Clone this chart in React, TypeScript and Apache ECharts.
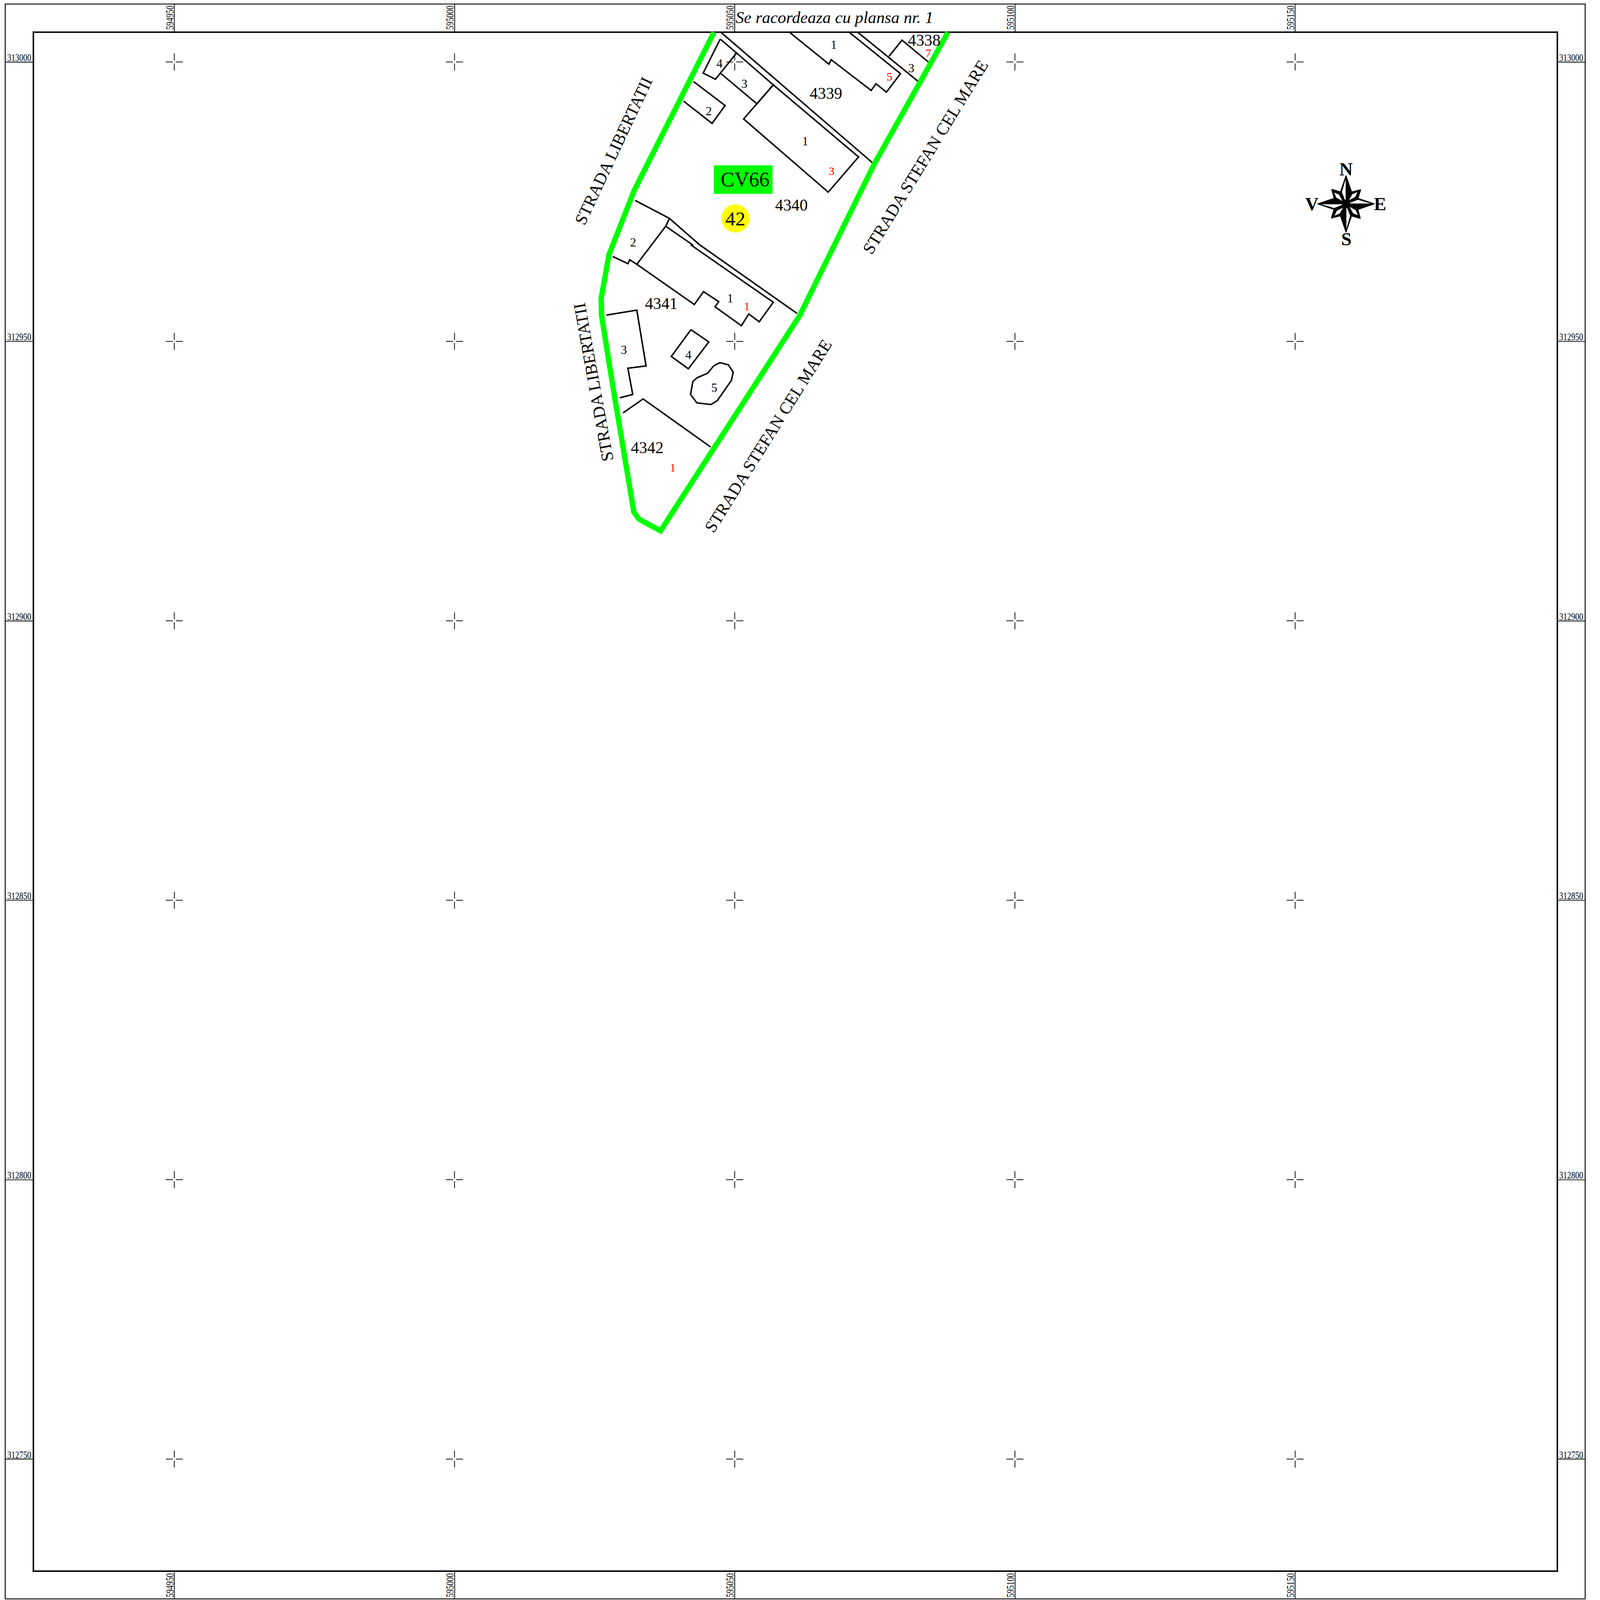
import React, { useEffect, useRef } from "react";
import * as echarts from "echarts";

const SERIF = "Liberation Serif";
const PAGE_W = 4314;
const PAGE_H = 4326;

const eastTicks = [594950, 595000, 595050, 595100, 595150];
const northTicks = [313000, 312950, 312900, 312850, 312800, 312750];

const boundary = [
  [595046.3, 313005.3], [595032.06, 312977.0], [595027.56, 312965.5], [595026.17, 312957.7],
  [595026.24, 312954.6], [595028.62, 312939.7], [595028.95, 312937.8], [595032.0, 312919.5],
  [595032.92, 312918.2], [595036.76, 312916.1], [595061.58, 312954.6], [595074.88, 312981.7],
  [595088.05, 313005.3],
];

const parcelLines = [
  [[595047.55, 313005.3], [595074.88, 312981.7]],
  [[595032.26, 312975.21], [595038.35, 312972.0], [595043.71, 312967.3], [595061.12, 312955.0]],
  [[595071.97, 313005.3], [595082.76, 312996.5]],
  [[595030.08, 312937.2], [595033.65, 312939.7], [595045.7, 312931.1]],
];

const buildings = [
  [[595047.42, 313004.1], [595050.33, 313001.6], [595046.56, 312996.9], [595044.37, 312998.0], [595047.42, 313004.1]],
  [[595050.33, 313001.6], [595056.88, 312995.9], [595053.97, 312992.5], [595047.55, 312997.9]],
  [[595056.88, 312995.9], [595072.1, 312983.0], [595066.68, 312976.7], [595051.59, 312989.8], [595056.88, 312995.9]],
  [[595042.65, 312996.5], [595048.28, 312992.2], [595045.96, 312989.0], [595040.87, 312993.0]],
  [[595059.79, 313005.3], [595066.81, 312999.6], [595067.21, 313000.4], [595074.35, 312994.9], [595075.21, 312996.1],
   [595077.07, 312994.6], [595079.58, 312997.9], [595070.45, 313005.3]],
  [[595077.53, 313001.0], [595079.85, 313003.9], [595084.54, 313000.0]],
  [[595038.35, 312972.0], [595037.69, 312970.6], [595042.45, 312967.3], [595042.26, 312967.2], [595056.88, 312957.0],
   [595054.37, 312953.5], [595052.51, 312954.9], [595051.19, 312952.8], [595046.49, 312956.2], [595047.15, 312957.1],
   [595044.44, 312958.9], [595042.79, 312956.6], [595032.53, 312963.8], [595037.69, 312970.6]],
  [[595028.23, 312965.2], [595030.94, 312963.9], [595031.27, 312964.6], [595032.53, 312963.8]],
  [[595027.1, 312954.7], [595032.53, 312955.6], [595034.18, 312945.6], [595030.94, 312945.2], [595031.8, 312940.5], [595029.48, 312939.9]],
  [[595042.19, 312952.1], [595045.37, 312949.9], [595041.73, 312945.1], [595038.68, 312947.3], [595042.19, 312952.1]],
  [[595047.35, 312946.2], [595048.87, 312945.8], [595049.73, 312944.5], [595049.4, 312943.0], [595046.89, 312939.4],
   [595045.76, 312938.7], [595043.25, 312939.0], [595042.12, 312940.5], [595042.52, 312942.8], [595043.31, 312943.5],
   [595045.17, 312944.3], [595046.23, 312945.6], [595047.35, 312946.2]],
];

const parcelLabels: [number, number, string][] = [
  [595066.28, 312994.4, "4339"], [595083.82, 313003.9, "4338"], [595060.12, 312974.4, "4340"],
  [595036.9, 312956.8, "4341"], [595034.38, 312931.0, "4342"],
];
const buildingLabels: [number, number, string][] = [
  [595067.67, 313003.1, "1"], [595047.29, 312999.7, "4"], [595051.72, 312996.1, "3"], [595045.37, 312991.2, "2"],
  [595081.5, 312998.9, "3"], [595062.57, 312985.8, "1"], [595031.87, 312967.7, "2"], [595049.2, 312957.7, "1"],
  [595030.21, 312948.5, "3"], [595041.73, 312947.6, "4"], [595046.36, 312941.7, "5"],
];
const redLabels: [number, number, string][] = [
  [595084.54, 313001.6, "7"], [595077.6, 312997.4, "5"], [595067.27, 312980.5, "3"],
  [595052.18, 312956.3, "1"], [595038.95, 312927.4, "1"],
];
const streetLabels: [number, number, string, number][] = [
  [595028.36, 312984.1, "STRADA LIBERTATII", 65],
  [595024.78, 312942.7, "STRADA LIBERTATII", 100.3],
  [595084.01, 312983.0, "STRADA STEFAN CEL MARE", 58.5],
  [595055.96, 312933.1, "STRADA STEFAN CEL MARE", 58],
];
const titleNote: [number, number, string] = [595067.8, 313008.0, "Se racordeaza cu plansa nr. 1"];
const blockBadge: [number, number, string] = [595051.52, 312978.95, "CV66"];
const numberBadge: [number, number, string] = [595050.13, 312972.0, "42"];
const compassCentre: [number, number] = [595159.08, 312974.6];
const compassLetters: [string, number, number][] = [["N", 0, -94], ["S", 1, 95], ["V", -92, 0], ["E", 92, 0]];

const pairs = (xs: number[], ys: number[]) => xs.flatMap((x) => ys.map((y) => [x, y]));
const rotate = (p: number[], turns: number) => {
  let [x, y] = p;
  for (let i = 0; i < turns; i++) [x, y] = [-y, x];
  return [x, y];
};

const xRange = { min: 594924.82, max: 595196.79 };
const yRange = { min: 312729.95, max: 313005.36 };

const lineSeries = (data: number[][], color: string, width: number) => ({
  type: "line",
  data,
  showSymbol: false,
  symbol: "none",
  silent: true,
  z: 3,
  lineStyle: { color, width, join: "miter", cap: "butt" },
  emphasis: { disabled: true },
});

const textSeries = (rows: any[], size: number, color: string) => ({
  type: "custom",
  coordinateSystem: "cartesian2d",
  silent: true,
  z: 6,
  data: rows.map((r) => [r[0], r[1]]),
  renderItem: (params: any, api: any) => {
    const c = api.coord([api.value(0), api.value(1)]);
    const r = rows[params.dataIndex];
    return {
      type: "text",
      x: c[0],
      y: c[1],
      rotation: ((r[3] || 0) * Math.PI) / 180,
      style: { text: r[2], fontFamily: SERIF, fontSize: size, fill: color, align: "center", verticalAlign: "middle" },
    };
  },
});

// Frame labels: condensed text beside each tick, placed through the axis scales.
const tickLabelSeries = (
  rows: number[][],
  place: { dx: number; dy: number; rot: number; align: string; size: number; squeeze: number }
) => ({
  type: "custom",
  coordinateSystem: "cartesian2d",
  silent: true,
  z: 6,
  data: rows,
  renderItem: (params: any, api: any) => {
    const c = api.coord([api.value(0), api.value(1)]);
    const value = place.rot ? rows[params.dataIndex][0] : rows[params.dataIndex][1];
    return {
      type: "text",
      x: c[0] + place.dx,
      y: c[1] + place.dy,
      rotation: place.rot,
      scaleX: place.squeeze,
      style: {
        text: String(value),
        fontFamily: SERIF,
        fontSize: place.size,
        fill: "#000",
        align: place.align,
        verticalAlign: "middle",
      },
    };
  },
});

const axisCommon = (values: number[]) => ({
  type: "value",
  splitLine: { show: false },
  axisLine: { show: true, onZero: false, lineStyle: { color: "#000", width: 4 } },
  axisTick: { show: true, length: 75, customValues: values, lineStyle: { color: "#000", width: 2 } },
  axisLabel: { show: false },
});

export default function App() {
  const ref = useRef<HTMLDivElement>(null);
  const sx = Math.min(1, window.innerWidth / PAGE_W);
  const sy = Math.min(1, window.innerHeight / PAGE_H);
  useEffect(() => {
    document.body.style.margin = "0";
    const chart = echarts.init(ref.current!, null, { renderer: "svg" });
    chart.setOption({
      animation: false,
      backgroundColor: "#fff",
      grid: { left: 89.5, top: 86.5, width: 4109.5, height: 4161.5, show: false },
      xAxis: [
        { ...axisCommon(eastTicks), ...xRange, position: "bottom" },
        { ...axisCommon(eastTicks), ...xRange, position: "top" },
      ],
      yAxis: [
        { ...axisCommon(northTicks), ...yRange, position: "left" },
        { ...axisCommon(northTicks), ...yRange, position: "right" },
      ],
      graphic: [
        { type: "rect", shape: { x: 14, y: 11, width: 4260, height: 4312 }, style: { fill: "none", stroke: "#000", lineWidth: 2.5 }, silent: true },
      ],
      series: [
        {
          type: "custom",
          silent: true,
          z: 2,
          data: pairs(eastTicks, northTicks),
          renderItem: (_: any, api: any) => {
            const [x, y] = api.coord([api.value(0), api.value(1)]);
            const arm = 23;
            const gap = 4;
            const seg = (a: number, b: number, c: number, d: number) => ({
              type: "line",
              shape: { x1: x + a, y1: y + b, x2: x + c, y2: y + d },
              style: { stroke: "#000", lineWidth: 2, fill: "none" },
            });
            return {
              type: "group",
              children: [seg(-arm, 0, -gap, 0), seg(gap, 0, arm, 0), seg(0, -arm, 0, -gap), seg(0, gap, 0, arm)],
            };
          },
        },
        ...parcelLines.map((d) => lineSeries(d, "#000", 4)),
        ...buildings.map((d) => lineSeries(d, "#000", 4)),
        lineSeries(boundary, "#00ff00", 14.5),
        {
          type: "custom",
          silent: true,
          z: 4,
          data: [[compassCentre[0], compassCentre[1]]],
          renderItem: (_: any, api: any) => {
            const [cx, cy] = api.coord([api.value(0), api.value(1)]);
            const poly = (pts: number[][], fill: string, lw = 0) => ({
              type: "polygon",
              x: cx,
              y: cy,
              shape: { points: pts },
              style: { fill, stroke: lw ? "#000" : "none", lineWidth: lw, lineJoin: "round" },
            });
            const children: any[] = [];
            for (let t = 0; t < 4; t++) {
              const diag = [[0, 0], [16, -32], [39, -38], [32, -15]].map((p) => rotate(p, t));
              const sliver = [[8, -10], [17, -26], [31, -32], [25, -19]].map((p) => rotate(p, t));
              children.push(poly(diag, "#000", 3), poly(sliver, "#fff"));
            }
            for (let t = 0; t < 4; t++) {
              const half = [[0, -76], [-15, -32], [0, 0], [15, -32]].map((p) => rotate(p, t));
              const light = [[-1, -67], [-11, -32], [-3, -11], [-1, -11]].map((p) => rotate(p, t));
              children.push(poly(half, "#000", 2.5), poly(light, "#fff"));
            }
            compassLetters.forEach(([text, dx, dy]) =>
              children.push({
                type: "text",
                x: cx + dx,
                y: cy + dy,
                style: { text, fontFamily: SERIF, fontWeight: "bold", fontSize: 50, fill: "#000", align: "center", verticalAlign: "middle" },
              })
            );
            return { type: "group", children };
          },
        },
        {
          type: "custom",
          silent: true,
          z: 5,
          data: [blockBadge.slice(0, 2)],
          renderItem: (_: any, api: any) => {
            const [x, y] = api.coord([api.value(0), api.value(1)]);
            return {
              type: "group",
              children: [
                { type: "rect", shape: { x: x - 79, y: y - 38.5, width: 158, height: 77 }, style: { fill: "#00ff00" } },
                { type: "text", x: x + 5, y, style: { text: blockBadge[2], fontFamily: SERIF, fontSize: 55, fill: "#000", align: "center", verticalAlign: "middle" } },
              ],
            };
          },
        },
        {
          type: "custom",
          silent: true,
          z: 5,
          data: [numberBadge.slice(0, 2)],
          renderItem: (_: any, api: any) => {
            const [x, y] = api.coord([api.value(0), api.value(1)]);
            return {
              type: "group",
              children: [
                { type: "circle", shape: { cx: x, cy: y, r: 38 }, style: { fill: "#ffff00" } },
                { type: "text", x, y, style: { text: numberBadge[2], fontFamily: SERIF, fontSize: 54, fill: "#000", align: "center", verticalAlign: "middle" } },
              ],
            };
          },
        },
        textSeries(parcelLabels, 44, "#000"),
        textSeries(buildingLabels, 33, "#000"),
        textSeries(redLabels, 32, "#ff0000"),
        textSeries(streetLabels, 46, "#000"),
        tickLabelSeries(eastTicks.map((x) => [x, yRange.max]), { dx: -12, dy: -6, rot: Math.PI / 2, align: "left", size: 28, squeeze: 0.78 }),
        tickLabelSeries(eastTicks.map((x) => [x, yRange.min]), { dx: -12, dy: 71, rot: Math.PI / 2, align: "left", size: 28, squeeze: 0.78 }),
        tickLabelSeries(northTicks.map((y) => [xRange.min, y]), { dx: -70, dy: -12, rot: 0, align: "left", size: 27, squeeze: 0.8 }),
        tickLabelSeries(northTicks.map((y) => [xRange.max, y]), { dx: 5, dy: -12, rot: 0, align: "left", size: 27, squeeze: 0.8 }),
        {
          type: "custom",
          silent: true,
          z: 6,
          data: [titleNote.slice(0, 2)],
          renderItem: (_: any, api: any) => {
            const [x, y] = api.coord([api.value(0), api.value(1)]);
            return {
              type: "text",
              x,
              y,
              style: { text: titleNote[2], fontFamily: SERIF, fontStyle: "italic", fontSize: 45, fill: "#000", align: "center", verticalAlign: "middle" },
            };
          },
        },
      ],
    });
    return () => chart.dispose();
  }, []);
  return (
    <div
      ref={ref}
      style={{
        position: "absolute",
        left: 0,
        top: 0,
        width: PAGE_W,
        height: PAGE_H,
        transformOrigin: "0 0",
        transform: `scale(${sx}, ${sy})`,
      }}
    />
  );
}
